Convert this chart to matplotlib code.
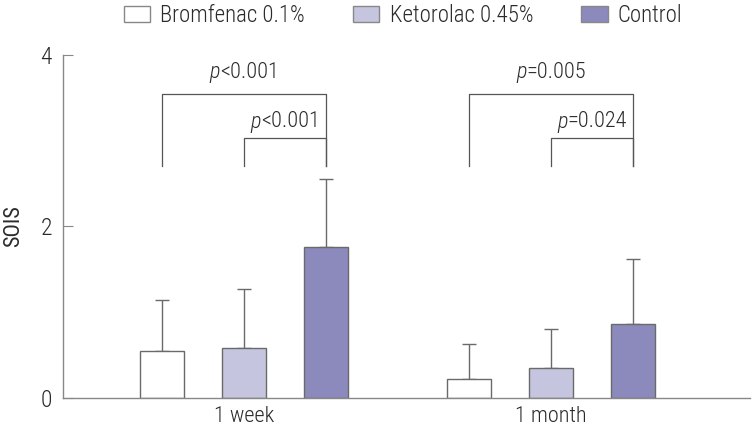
import matplotlib
matplotlib.use('Agg')
import matplotlib.pyplot as plt
import numpy as np

plt.rcParams['font.family'] = ['Roboto Condensed', 'PT Sans Narrow', 'DejaVu Sans']
plt.rcParams['font.weight'] = 'light'

groups = ['1 week', '1 month']
series = ['Bromfenac 0.1%', 'Ketorolac 0.45%', 'Control']
means = {
    'Bromfenac 0.1%': [0.55, 0.22],
    'Ketorolac 0.45%': [0.58, 0.35],
    'Control': [1.76, 0.86],
}
sds = {
    'Bromfenac 0.1%': [0.59, 0.41],
    'Ketorolac 0.45%': [0.69, 0.45],
    'Control': [0.79, 0.76],
}
colors = ['#ffffff', '#c6c5df', '#8c89bc']
# (group index, from series, to series, relation, p value)
comparisons = [
    (0, 0, 2, '<', '0.001'),
    (0, 1, 2, '<', '0.001'),
    (1, 0, 2, '=', '0.005'),
    (1, 1, 2, '=', '0.024'),
]

txt = '#2b2b2b'
edge = '#6a6a6a'
fs = 16

fig = plt.figure(figsize=(7.52, 4.32), dpi=100)
ax = fig.add_axes([0.084, 0.079, 0.913, 0.794])

x = np.arange(len(groups))
offset = 0.267
width = 0.143
for i, s in enumerate(series):
    xs = x + (i - 1) * offset
    ax.bar(xs, means[s], width, color=colors[i], edgecolor=edge, linewidth=1.0,
           label=s, zorder=2)
    ax.errorbar(xs, means[s], yerr=[np.zeros(len(groups)), sds[s]], fmt='none',
                ecolor=edge, elinewidth=1.0, capsize=5, capthick=1.0, zorder=1)

ax.set_xlim(-0.59, 1.648)
ax.set_ylim(0, 4)

# significance brackets
renderer = fig.canvas.get_renderer()
levels = [(3.545, 3.80), (3.03, 3.22)]
base = 2.705
for k, (g, a, b, rel, pv) in enumerate(comparisons):
    top, ty = levels[k % 2]
    x1 = x[g] + (a - 1) * offset
    x2 = x[g] + (b - 1) * offset
    ax.plot([x1, x1, x2, x2], [base, top, top, base], color='#555555', lw=0.9)
    xc = (x1 + x2) / 2
    tp = ax.text(xc, ty, 'p', ha='right', va='center', fontsize=fs,
                 style='italic', color=txt)
    tr = ax.text(xc, ty, rel + pv, ha='left', va='center', fontsize=fs,
                 color=txt)
    wp = tp.get_window_extent(renderer).width
    wr = tr.get_window_extent(renderer).width
    shift_px = (wp - wr) / 2
    x0 = ax.transData.transform((xc, ty))[0] + shift_px
    xd = ax.transData.inverted().transform((x0, 0))[0]
    tp.set_x(xd)
    tr.set_x(xd)

ax.set_yticks([0, 2, 4])
ax.set_xticks(x)
ax.set_xticklabels(groups)
ax.tick_params(axis='x', length=0, labelsize=fs, colors=txt, pad=6)
ax.tick_params(axis='y', direction='in', length=7, width=0.8, color='#888888',
               labelsize=17, labelcolor=txt, pad=8)
for sp in ['top', 'right']:
    ax.spines[sp].set_visible(False)
for sp in ['left', 'bottom']:
    ax.spines[sp].set_color('#888888')
    ax.spines[sp].set_linewidth(1.0)
ax.set_ylabel('SOIS', fontsize=fs, color=txt, labelpad=12)

leg = fig.legend(loc='center', bbox_to_anchor=(0.536, 0.963), ncol=3,
                 frameon=False, fontsize=16.5, handlelength=1.15,
                 handleheight=0.7, columnspacing=2.1, handletextpad=0.45,
                 borderaxespad=0, borderpad=0)
for t in leg.get_texts():
    t.set_color(txt)
for h in leg.legend_handles:
    h.set_edgecolor('#888888')

fig.savefig('out.png', dpi=100)
